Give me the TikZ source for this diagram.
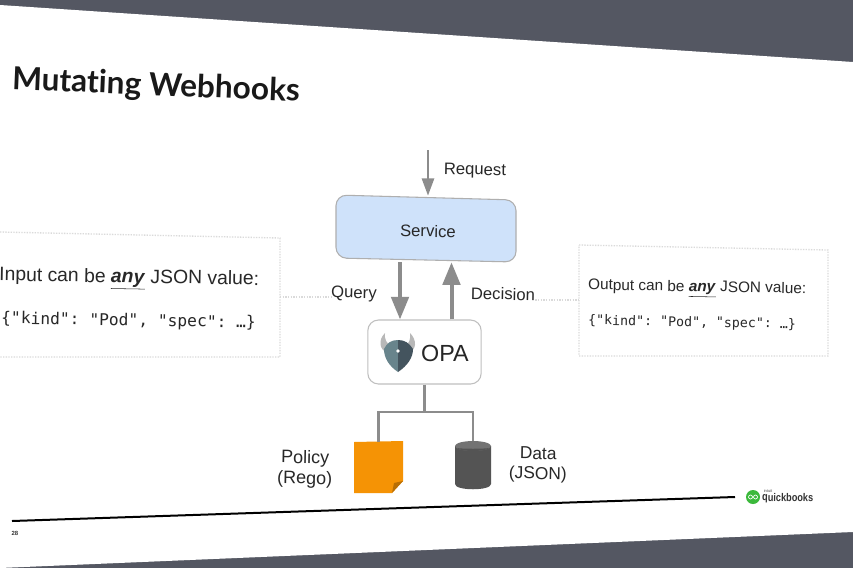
\documentclass[tikz,border=0pt]{standalone}
\usepackage{fontspec}
\setmainfont{Liberation Sans}
\setmonofont{DejaVu Sans Mono}
\newfontfamily\titlefont[Ligatures=NoCommon]{Lato}
\usetikzlibrary{arrows.meta}
\definecolor{slidebg}{RGB}{84,87,98}
\definecolor{linegray}{RGB}{140,140,140}
\definecolor{servicefill}{RGB}{207,226,250}
\definecolor{inktext}{RGB}{40,40,40}
\definecolor{dotgray}{RGB}{218,218,218}
\definecolor{policyorange}{RGB}{245,147,5}
\definecolor{datagray}{RGB}{84,84,84}
\definecolor{shieldlight}{RGB}{104,132,140}
\definecolor{shielddark}{RGB}{68,84,94}
\definecolor{brandgreen}{RGB}{60,185,60}
\tikzset{
  label/.style={font=\fontsize{12.5}{14}\selectfont,text=inktext,inner sep=0pt,rotate=-1},
  flow/.style={draw=linegray,line width=3pt,-{Triangle[length=17pt,width=13pt]}},
  smallflow/.style={draw=linegray,line width=2pt,-{Triangle[length=13pt,width=9pt]}},
  tree/.style={draw=linegray,line width=2pt},
  dotline/.style={draw=dotgray,line width=1pt,densely dotted}
}
\begin{document}
\begin{tikzpicture}[x=0.75pt,y=0.75pt,yscale=-1,xscale=1]
\useasboundingbox (0,0) rectangle (853,568);
%Shape: slide
\fill [slidebg] (0,0) rectangle (853,568);
\fill [white] (0,5) -- (853,62) -- (853,532) -- (0,568) -- cycle;

%Shape: dotted boxes
\draw [dotline] (0,232) -- (280,238) -- (280,357) -- (0,357);
\draw [dotline] (579,245) -- (828,250) -- (828,356) -- (579,356) -- cycle;

%Shape: footer
\draw [line width=1.5pt,black] (12,521) -- (735,497);
\fill [brandgreen] (753,497) circle (7);
\draw [white,line width=0.5pt] (750.5,497) circle (2) (755.5,497) circle (2);

% Text Node
\node (title) [font=\titlefont\bfseries\fontsize{23.7}{28}\selectfont,text=black!90,rotate=-2.4] at (156,86.5) {Mutating Webhooks};

%Shape: service box
\draw [draw=linegray!70,fill=servicefill,rounded corners=8pt,line width=0.8pt] (336,195) -- (516,200) -- (516,262) -- (336,258) -- cycle;
% Text Node
\node (service) [minimum width=135pt,minimum height=49.5pt,inner sep=0pt,label] at (426,229) {};
\node (servicetext) [label] at (428,231) {Service};
% Text Node
\node (opa) [draw=black!25,fill=white,rounded corners=8pt,line width=0.8pt,minimum width=85pt,minimum height=48pt] at (424.5,352) {};
\node (opatext) [font=\fontsize{17.5}{20}\selectfont,text=black!85,inner sep=0pt] at (445,353) {OPA};
%Shape: OPA logo
\fill [black!28] (385,333) .. controls (378,340) and (379,350) .. (388,353) -- (391,346) .. controls (387,344) and (384,339) .. (385,333) -- cycle;
\fill [black!28] (410,333) .. controls (417,340) and (417,350) .. (408,353) -- (405,346) .. controls (409,344) and (411,339) .. (410,333) -- cycle;
\fill [shieldlight] (398,340) .. controls (391,340) and (387,343) .. (384,349) .. controls (384,358) and (389,366) .. (398,372) -- cycle;
\fill [shielddark] (398,340) .. controls (405,340) and (409,343) .. (413,349) .. controls (413,358) and (407,366) .. (398,372) -- cycle;
\fill [white] (398,351) circle (1.8);
% Text Node
\node (policy) [inner sep=0pt,minimum width=37pt,minimum height=38pt] at (378.5,467.5) {};
\fill [policyorange] (354,442) -- (403,441) -- (403,481) -- (392,493) -- (354,493) -- cycle;
\fill [policyorange!75!black] (403,481) -- (394,483) -- (392,493) -- cycle;
% Text Node
\node (data) [inner sep=0pt,minimum width=27pt,minimum height=36pt] at (473,465) {};
\fill [datagray] (455,446) -- (455,484) .. controls (455,491) and (491,491) .. (491,484) -- (491,446) -- cycle;
\fill [black!55] (473,446) ellipse (18 and 5);
\fill [datagray] (456.5,448) .. controls (462,452) and (484,452) .. (489.5,448) .. controls (484,449) and (462,449) .. (456.5,448) -- cycle;

%Straight Lines
\coordinate (requeststart) at (428,150);
\coordinate (queryx) at (400,0);
\coordinate (decisionx) at (451.5,0);
\coordinate (inputedge) at (280,297);
\coordinate (outputedge) at (579,300);
\draw [smallflow] (requeststart) -- (service.north -| requeststart);
\draw [flow] (service.south -| queryx) -- (opa.north -| queryx);
\draw [flow] (opa.north -| decisionx) -- (service.south -| decisionx);
\draw [tree] (opa.south) -- (424.5,412) coordinate (branch);
\draw [tree] (policy.north) |- (branch);
\draw [tree] (data.north) |- (branch);

% Text Node
\node (request) [label] at (475,171) {Request};
% Text Node
\node (query) [label] at (354,294) {Query};
% Text Node
\node (decision) [label] at (503,294) {Decision};
\draw [dotline] (inputedge) -- (query.west |- inputedge);
\draw [dotline] (decision.east |- outputedge) -- (outputedge);
% Text Node
\node (policylabel) [label,align=center,font=\fontsize{13.5}{15.5}\selectfont] at (305,469) {Policy\\(Rego)};
% Text Node
\node (datalabel) [label,align=center,font=\fontsize{13}{15}\selectfont] at (538,465) {Data\\(JSON)};
% Text Node
\node (inputtext) [label,anchor=west,font=\fontsize{14.5}{16}\selectfont] at (-1,277) {Input can be \underline{\textbf{\textit{any}}} JSON value:};
\node (inputcode) [label,anchor=west,font=\ttfamily\fontsize{12.2}{14}\selectfont] at (1,319) {\{"kind": "Pod", "spec": …\}};
% Text Node
\node (outputtext) [label,anchor=west,font=\fontsize{11.5}{14}\selectfont] at (588,287) {Output can be \underline{\textbf{\textit{any}}} JSON value:};
\node (outputcode) [label,anchor=west,font=\ttfamily\fontsize{9.95}{12}\selectfont] at (588,321) {\{"kind": "Pod", "spec": …\}};
% Text Node
\node (brand) [anchor=west,inner sep=0pt,font=\bfseries\fontsize{8.4}{10}\selectfont,text=black!80,rotate=-1,xscale=0.82] at (762,498) {quickbooks};
\node (intuit) [inner sep=0pt,font=\fontsize{3}{4}\selectfont,text=black!70] at (768,491.5) {intuit};
\node (pagenum) [inner sep=0pt,font=\bfseries\fontsize{4.5}{5}\selectfont,text=black!80] at (15,533) {28};
\end{tikzpicture}
\end{document}
